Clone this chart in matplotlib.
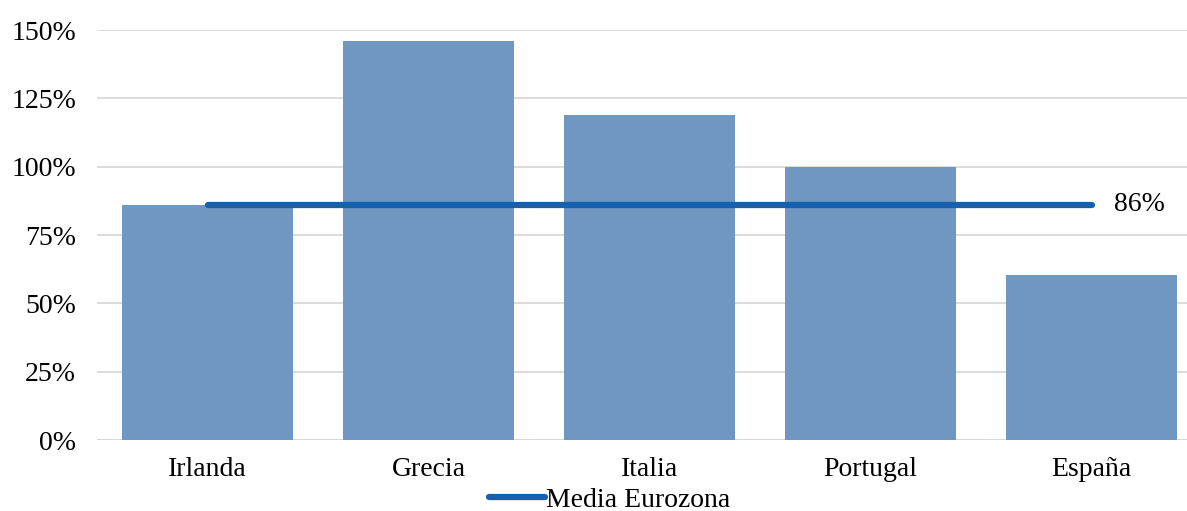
import matplotlib
matplotlib.use("Agg")
import matplotlib.pyplot as plt
import numpy as np
from matplotlib.ticker import FuncFormatter

paises = ["Irlanda", "Grecia", "Italia", "Portugal", "España"]
valores = [86, 146, 119, 100, 60.5]
media_eurozona = [86, 86, 86, 86, 86]
etiqueta_media = "86%"
y_ticks = [0, 25, 50, 75, 100, 125, 150]

plt.rcParams["font.family"] = ["Liberation Serif", "DejaVu Serif"]

fig = plt.figure(figsize=(11.87, 5.11), dpi=100)
ax = fig.add_axes([97 / 1187, 1 - 440 / 511, 1105 / 1187, 410 / 511])

x = np.arange(len(paises))
ax.bar(x, valores, width=0.77, color="#7096C2", zorder=2)
linea, = ax.plot(x, media_eurozona, color="#1660B0", lw=4.5, solid_capstyle="round", zorder=3)
ax.text(x[-1] + 0.1, media_eurozona[-1], etiqueta_media, va="center", ha="left", fontsize=20)

ax.set_xlim(-0.5, len(paises) - 0.5)
ax.set_ylim(0, 150)
ax.set_yticks(y_ticks)
ax.yaxis.set_major_formatter(FuncFormatter(lambda v, p: f"{v:.0f}%"))
ax.set_xticks(x)
ax.set_xticklabels(paises)
ax.tick_params(axis="both", length=0, labelsize=20)
ax.tick_params(axis="x", pad=12)
ax.tick_params(axis="y", pad=15)
ax.grid(axis="y", color="#D9D9D9", lw=1.3, zorder=0)
for s in ax.spines.values():
    s.set_visible(False)
ax.axhline(0, color="#D9D9D9", lw=1.5, zorder=1)

fig.legend([linea], ["Media Eurozona"], loc="center", bbox_to_anchor=(610 / 1187, 1 - 500 / 511),
           frameon=False, fontsize=20, handlelength=2.0, handletextpad=0.05, borderaxespad=0)

fig.savefig("out.png", dpi=100)
